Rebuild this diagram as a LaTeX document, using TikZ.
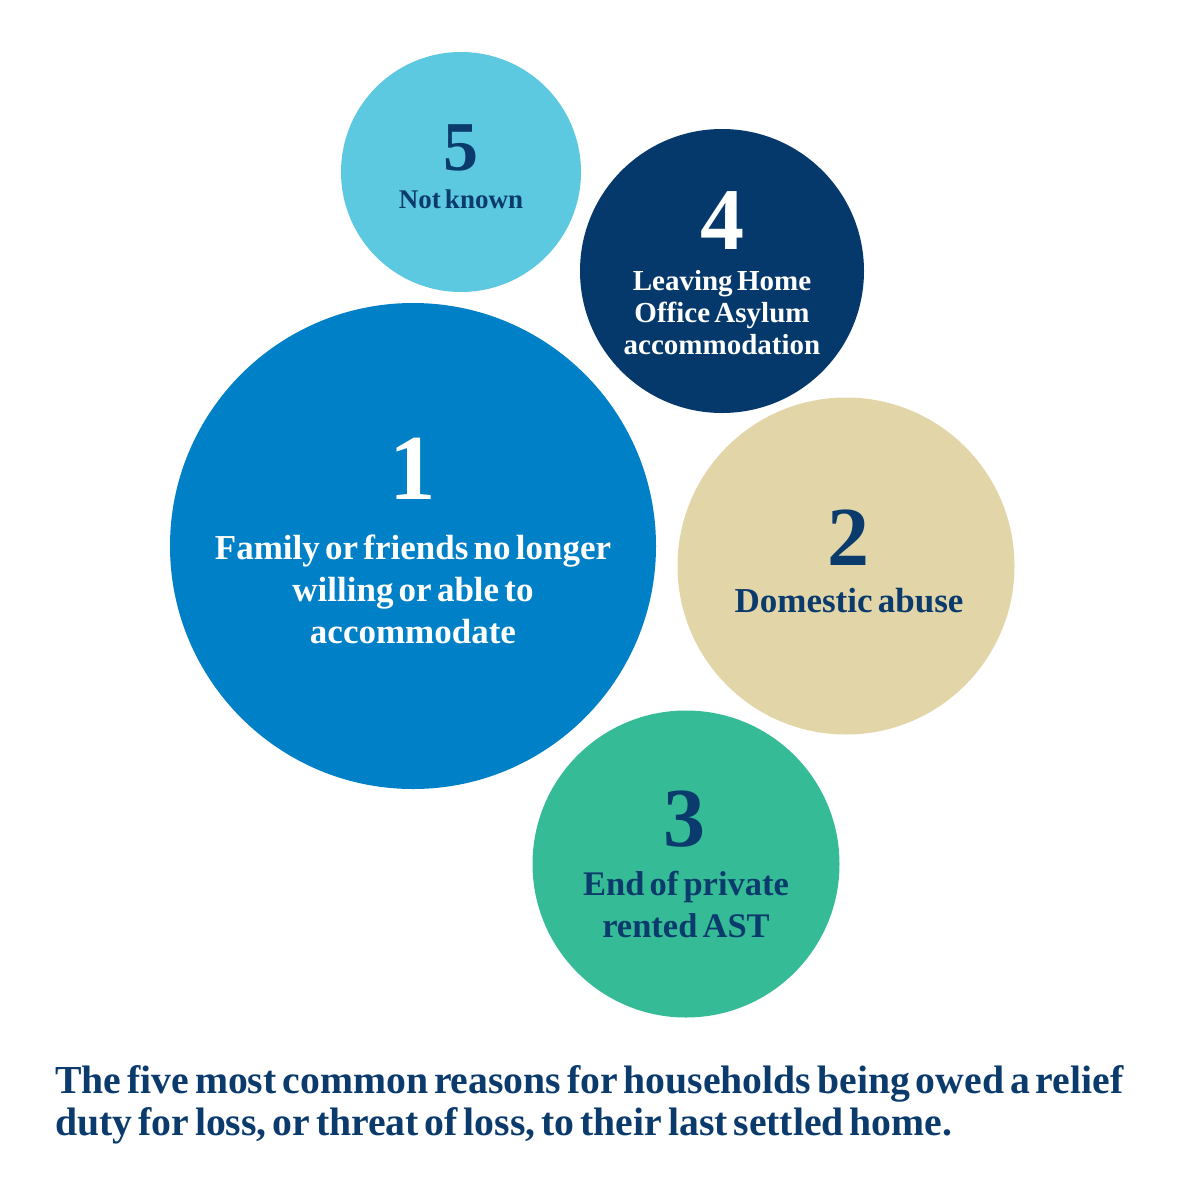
\documentclass[tikz,border=0pt]{standalone}
\usepackage{fontspec}
\setmainfont{Liberation Serif}[WordSpace=0.6]
\definecolor{cLight}{HTML}{5CC9E1}
\definecolor{cNavy}{HTML}{06396B}
\definecolor{cMid}{HTML}{0080C6}
\definecolor{cBeige}{HTML}{E2D6A9}
\definecolor{cGreen}{HTML}{35BC97}
\definecolor{cText}{HTML}{0B3B6C}
\tikzset{
  bubble/.style={circle, inner sep=0pt, draw=none},
  num/.style={font=\fontsize{#1}{#1}\selectfont\bfseries, inner sep=0pt, anchor=base},
  lbl/.style n args={2}{font=\fontsize{#1}{#2}\selectfont\bfseries, inner sep=0pt, align=center, anchor=base},
}
\begin{document}
\begin{tikzpicture}[x=1pt,y=-1pt]
\useasboundingbox[fill=white] (0,0) rectangle (1200,1200);
% bubbles
\node[bubble, fill=cLight, minimum size=240pt] (b5) at (461,172) {};
\node[bubble, fill=cNavy, minimum size=284pt] (b4) at (722,271) {};
\node[bubble, fill=cMid, minimum size=486pt] (b1) at (413,546) {};
\node[bubble, fill=cBeige, minimum size=337pt] (b2) at (846,566) {};
\node[bubble, fill=cGreen, minimum size=307pt] (b3) at (686,864) {};
% numbers
\node[num=70, text=cText] (n5) at (461,170) {5};
\node[num=88, text=white] (n4) at (722,249) {4};
\node[num=93, text=white] (n1) at (413,499) {1};
\node[num=84, text=cText] (n2) at (848,565) {2};
\node[num=84, text=cText] (n3) at (684,846) {3};
% labels
\node[lbl={27}{32}, text=cText] (t5) at (461,208) {Not known};
\node[lbl={29}{32}, text=white] (t4) at (722,354) {Leaving Home\\Office Asylum\\accommodation};
\node[lbl={35}{42}, text=white] (t1) at (413,643) {Family or friends no longer\\willing or able to\\accommodate};
\node[lbl={35}{42}, text=cText] (t2) at (849,612) {Domestic abuse};
\node[lbl={34.5}{42}, text=cText] (t3) at (686,937) {End of private\\rented AST};
% caption
\node[font=\fontsize{39.7}{42}\selectfont\bfseries, text=cText, inner sep=0pt, align=left, anchor=base west] (cap) at (55,1135) {The five most common reasons for households being owed a relief\\duty for loss, or threat of loss, to their last settled home.};
\end{tikzpicture}
\end{document}
